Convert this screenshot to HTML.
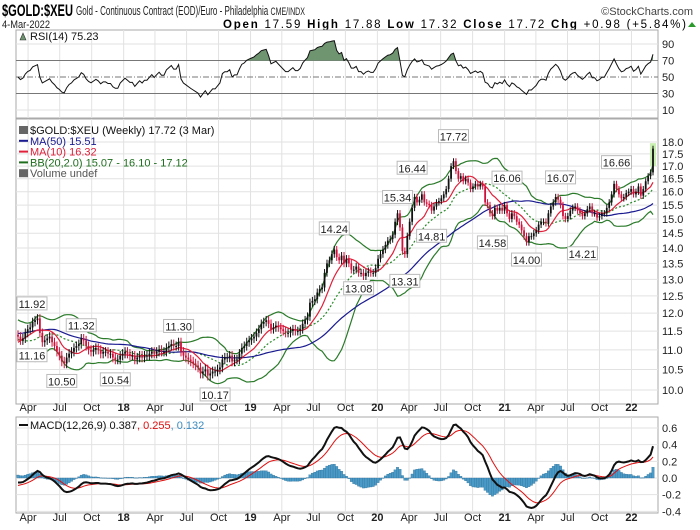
<!DOCTYPE html>
<html><head><meta charset="utf-8"><style>
body{margin:0;background:#fff;}
svg{display:block;font-family:"Liberation Sans",sans-serif;}
</style></head><body>
<svg id="chart" width="700" height="530" viewBox="0 0 700 530">
<rect width="700" height="530" fill="#fff"/>
<text x="2" y="16" font-size="17" font-weight="bold" textLength="71" lengthAdjust="spacingAndGlyphs">$GOLD:$XEU</text>
<text x="76" y="15" font-size="12.5" fill="#222" textLength="229" lengthAdjust="spacingAndGlyphs">Gold - Continuous Contract (EOD)/Euro - Philadelphia <tspan font-size="11">CME/INDX</tspan></text>
<text x="693" y="15" font-size="11" fill="#444" text-anchor="end">©StockCharts.com</text>
<text x="2" y="28" font-size="11" fill="#222" textLength="48" lengthAdjust="spacingAndGlyphs">4-Mar-2022</text>
<text x="223" y="28" font-size="11.5" textLength="463" lengthAdjust="spacing"><tspan font-weight="bold">Open</tspan> 17.59 <tspan font-weight="bold">High</tspan> 17.88 <tspan font-weight="bold">Low</tspan> 17.32 <tspan font-weight="bold">Close</tspan> 17.72 <tspan font-weight="bold">Chg</tspan> +0.98 (+5.84%)</text>
<polygon points="688,27 696,27 692,22" fill="#2a9a2a"/>
<g id="g"></g>
</svg>
<script>
const pre=[10.9,11.0,10.9,10.8,11.0,11.1,11.0,11.1,11.2,11.3,11.1,11.0,10.9,11.0,11.1,11.4,11.8,12.0,12.2,12.1,12.1,12.2,12.0,12.1,11.9,12.0,11.9,12.0,12.1,12.0,11.9,11.6,11.5,11.6,11.6,11.5,11.6,11.3,11.0,10.9,10.9,10.8,10.9,11.0,11.1,11.2,11.3,11.4,11.5,11.4];
const closes=[
11.35,11.25,11.3,11.45,11.55, 11.6,11.75,11.8,11.85, 11.45,11.2,11.25,11.3, 11.35,11.2,11.1,10.95,10.85, 10.7,10.65,10.8,10.9, 10.95,11.05,11.1,11.15, 11.3,11.25,11.1,11.0,10.95, 11.0,11.05,11.0,10.9, 10.95,10.95,10.9,10.9, 10.8,10.75,10.75,10.85,10.9,
10.95,10.9,10.85,10.85, 10.75,10.8,10.85,10.8, 10.85,10.85,10.9,10.95,10.9, 10.95,11.0,10.95,10.95, 11.05,11.1,11.15,11.1, 11.1,11.2,10.95,10.85,10.8, 10.75,10.7,10.65,10.6, 10.55,10.4,10.45,10.5,10.35, 10.4,10.45,10.45,10.5, 10.55,10.75,10.8,10.8, 10.85,10.7,10.75,10.75,10.9, 11.05,11.1,11.2,11.25,
11.3,11.35,11.45,11.55, 11.7,11.75,11.8,11.7, 11.55,11.6,11.65,11.6,11.55, 11.5,11.45,11.45,11.5, 11.55,11.5,11.5,11.55,11.7, 11.8,11.9,12.3,12.35, 12.4,12.6,12.7,12.75, 13.2,13.5,13.6,13.8,13.95, 13.7,13.6,13.75,13.5, 13.65,13.5,13.3,13.3, 13.4,13.2,13.2,13.1,13.2, 13.25,13.2,13.2,13.35,
13.65,13.8,13.95,14.1,14.25, 14.3,14.45,14.9,15.2, 14.7,13.9,13.8,14.4, 14.9,15.4,15.8,15.6, 15.7,15.9,15.6,15.55,15.5, 15.3,15.45,15.6,15.65, 15.75,15.9,16.1,16.5,17.0, 17.2,16.8,16.5,16.6, 16.4,16.5,16.35,16.1, 16.2,16.3,16.2,16.3,16.2, 15.6,15.5,15.2,15.1, 15.4,15.3,15.4,15.3,
15.5,15.2,15.0,15.2,15.1, 14.9,14.8,14.6,14.4, 14.2,14.4,14.4,14.5, 14.6,14.8,14.9,14.9,14.85, 15.2,15.45,15.6,15.8, 15.7,15.5,15.1,15.0, 15.1,15.3,15.4,15.45,15.3, 15.2,15.1,15.2,15.35, 15.45,15.2,15.2,15.05, 15.1,15.2,15.2,15.4,15.6, 15.9,16.3,16.1,15.9, 15.75,15.8,15.95,16.0,16.1,
15.9,16.0,16.2,15.85, 16.1,16.4,16.6,16.75, 17.72];
const annoIdx=[3,0,18,26,40,66,81,130,140,156,159,162,170,179,201,195,209,223,232,246];
const annoVal=[11.92,11.16,10.50,11.32,10.54,11.30,10.17,14.24,13.08,15.34,13.31,16.44,14.81,17.72,16.06,14.58,14.00,16.07,14.21,16.66];
const annoUp=[1,0,0,1,0,1,0,1,0,1,0,1,0,1,1,0,0,1,0,1];
const priceTicks=[10,10.5,11,11.5,12,12.5,13,13.5,14,14.5,15,15.5,16,16.5,17,17.5,18];
const rsiTicks=[10,30,50,70,90];
const macdTicks=[-0.4,-0.2,0,0.2,0.4,0.6];

const NS="http://www.w3.org/2000/svg", G=document.getElementById('g');
function mk(t,a,p){const e=document.createElementNS(NS,t);for(const k in a)e.setAttribute(k,a[k]);(p||G).appendChild(e);return e;}
const all=pre.concat(closes), P=pre.length, N=closes.length;
const L=16,R=658;
const X0=18,X1=653;
const xi=i=>X0+i*(X1-X0)/(N-1);
const yP=p=>142+(Math.log(18)-Math.log(p))*422;
const yR=v=>110-(v-10)*0.825;
const yM=v=>478-v*83.3;
const start=Date.UTC(2017,2,3);
const xd=(y,m)=>xi((Date.UTC(y,m,1)-start)/604800000);

function sma(n,i){let s=0;for(let k=i-n+1;k<=i;k++)s+=all[Math.max(k,0)];return s/n;}
function sd(n,i){const m=sma(n,i);let s=0;for(let k=i-n+1;k<=i;k++){const d=all[Math.max(k,0)]-m;s+=d*d;}return Math.sqrt(s/n);}
function ema(arr,n){const a=2/(n+1);const o=[arr[0]];for(let i=1;i<arr.length;i++)o.push(arr[i]*a+o[i-1]*(1-a));return o;}
const e12=ema(all,12),e26=ema(all,26);const macd=all.map((v,i)=>e12[i]-e26[i]);const sig=ema(macd,9);
const rsi=[];{let ag=0,al=0;for(let i=1;i<all.length;i++){const d=all[i]-all[i-1];const g=Math.max(d,0),l=Math.max(-d,0);if(i<=14){ag+=g/14;al+=l/14;}else{ag=(ag*13+g)/14;al=(al*13+l)/14;}rsi[i]=al===0?100:100-100/(1+ag/al);}rsi[0]=50;}

const panels=[["rsi-panel",30,118],["price-panel",119,404],["macd-panel",417,513]];
panels.forEach(p=>{const r=mk('rect',{x:L,y:p[1],width:R-L,height:p[2]-p[1],fill:'#fff',stroke:'#aaa'});});
const months=[];for(let y=2017;y<=2022;y++)for(const m of [0,3,6,9]){const x=xd(y,m);if(x>L+2&&x<R-4)months.push([x,m===0?String(y).slice(2):['','Apr','Jul','Oct'][m/3],m===0]);}
months.forEach(mm=>{panels.forEach(p=>{mk('line',{x1:mm[0],x2:mm[0],y1:p[1],y2:p[2],stroke:'#e2e2e2'});});
[411,521].forEach(yy=>{const t=mk('text',{x:mm[0],y:yy,'font-size':11,'text-anchor':'middle','font-weight':mm[2]?'bold':'normal',fill:'#222'});t.textContent=mm[1];});});
priceTicks.forEach(v=>{const y=yP(v);mk('line',{x1:L,x2:R,y1:y,y2:y,stroke:'#e2e2e2'});const t=mk('text',{x:662,y:y+4,'font-size':11,fill:'#222'});t.textContent=v.toFixed(1);});
rsiTicks.forEach(v=>{const y=yR(v);const strong=v===30||v===70;mk('line',{x1:L,x2:R,y1:y,y2:y,stroke:strong?'#777':(v===50?'#777':'#e2e2e2'),'stroke-dasharray':v===50?'6,2,1,2':'none'});const t=mk('text',{x:662,y:y+4,'font-size':11,fill:'#222'});t.textContent=v;});
macdTicks.forEach(v=>{const y=yM(v);mk('line',{x1:L,x2:R,y1:y,y2:y,stroke:'#e2e2e2'});const t=mk('text',{x:662,y:y+4,'font-size':11,fill:'#222'});t.textContent=v.toFixed(1);});

let rp='';for(let i=0;i<N;i++)rp+=(i?'L':'M')+xi(i).toFixed(1)+','+yR(rsi[P+i]).toFixed(1);
const cp=mk('clipPath',{id:'ob'});mk('rect',{x:L,y:30,width:R-L,height:yR(70)-30},cp);
const rf=mk('path',{d:rp+'L'+xi(N-1)+','+yR(70)+'L'+xi(0)+','+yR(70)+'Z',fill:'#6e9470','clip-path':'url(#ob)'});

const rl=mk('path',{d:rp,fill:'none',stroke:'#111','stroke-width':1});
const rt=mk('text',{x:30,y:40,'font-size':11,fill:'#111'});rt.textContent='RSI(14) 75.23';
mk('polygon',{points:'20,40 23,33 26,40',fill:'#6e9470',stroke:'#333','stroke-width':0.6});

function line(fn,col,name,dash,w){let d='';for(let i=0;i<N;i++)d+=(i?'L':'M')+xi(i).toFixed(1)+','+yP(fn(P+i)).toFixed(1);const e=mk('path',{d,fill:'none',stroke:col,'stroke-width':w||1.2,'stroke-dasharray':dash||'none'});}
line(i=>sma(20,i)+2*sd(20,i),'#2a7a2a','bb-upper');
line(i=>sma(20,i)-2*sd(20,i),'#2a7a2a','bb-lower');
line(i=>sma(20,i),'#2a8a2a','bb-middle','2,2');
line(i=>sma(50,i),'#1a1a90','ma50-line');
line(i=>sma(10,i),'#e0203a','ma10-line');
mk('rect',{x:xi(N-1)-3,y:yP(17.95),width:6,height:yP(17.0)-yP(17.95),fill:'#c8f0b0'});
for(let i=0;i<N;i++){const c=all[P+i],o=all[P+i-1],up=c>=o,col=up?'#111':'#d0103a';const x=xi(i);
const hi=Math.max(o,c)+0.12,lo=Math.min(o,c)-0.12;
const w=mk('line',{x1:x,x2:x,y1:yP(hi),y2:yP(lo),stroke:col,'stroke-width':1});

const b=mk('rect',{x:x-0.9,y:yP(Math.max(o,c)),width:1.8,height:Math.max(1,Math.abs(yP(o)-yP(c))),fill:col});
}
annoIdx.forEach((ix,k)=>{const v=annoVal[k],up=annoUp[k];let x=xi(ix);const tx=Math.max(L+16,x);const y=yP(v)+(up?-12:12);
const r=mk('rect',{x:tx-15,y:y-7,width:30,height:13,fill:'#fff',stroke:'#bbb'});
const t=mk('text',{x:tx,y:y+4,'font-size':11,'text-anchor':'middle',fill:'#222'});t.textContent=v.toFixed(2);});
const leg=[['$GOLD:$XEU (Weekly) 17.72 (3 Mar)','#111'],['MA(50) 15.51','#1a1a90'],['MA(10) 16.32','#e0203a'],['BB(20,2.0) 15.07 - 16.10 - 17.12','#1e6e1e'],['Volume undef','#555']];
const lnames=['price-legend','ma50-legend','ma10-legend','bb-legend','volume-legend'];
leg.forEach((l,k)=>{const y=134+k*10.8;if(k>0&&k<4)mk('line',{x1:19,x2:28,y1:y-4,y2:y-4,stroke:l[1],'stroke-width':2});else mk('rect',{x:19,y:y-8,width:9,height:8,fill:'#666'});
const t=mk('text',{x:30,y:y,'font-size':11,fill:l[1]});t.textContent=l[0];});

for(let i=0;i<N;i++){const h=macd[P+i]-sig[P+i];const b=mk('rect',{x:xi(i)-1.2,y:Math.min(yM(h),yM(0)),width:2.4,height:Math.max(0.5,Math.abs(yM(h)-yM(0))),fill:'#4a9ac8',stroke:'#2a6a90','stroke-width':0.3});}
function mline(arr,col,w,name){let d='';for(let i=0;i<N;i++)d+=(i?'L':'M')+xi(i).toFixed(1)+','+yM(arr[P+i]).toFixed(1);const e=mk('path',{d,fill:'none',stroke:col,'stroke-width':w});}
mline(sig,'#e01010',1,'macd-signal-line');
mline(macd,'#111',2,'macd-line');
mk('line',{x1:19,x2:28,y1:425,y2:425,stroke:'#111','stroke-width':2});
const mt=mk('text',{x:30,y:429,'font-size':11,fill:'#111'});mt.innerHTML='MACD(12,26,9) 0.387<tspan fill="#e01010">, 0.255</tspan><tspan fill="#3a8ac0">, 0.132</tspan>';

</script>
</body></html>
